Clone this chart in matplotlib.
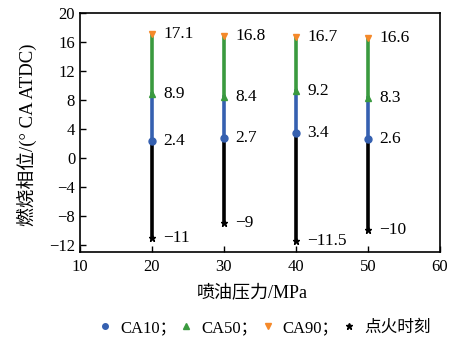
import matplotlib.pyplot as plt
from matplotlib.lines import Line2D

plt.rcParams['font.family'] = ['Liberation Serif', 'Noto Sans CJK SC']
plt.rcParams['axes.unicode_minus'] = True

# 喷油压力 / 燃烧相位
pressure = [20, 30, 40, 50]
ignition = [-11, -9, -11.5, -10]
ca10 = [2.4, 2.7, 3.4, 2.6]
ca50 = [8.9, 8.4, 9.2, 8.3]
ca90 = [17.1, 16.8, 16.7, 16.6]

c_blue = "#3560b0"
c_green = "#3a9a3f"
c_orange = "#f5892a"

fig = plt.figure(figsize=(4.52, 3.38), dpi=100)
ax = fig.add_axes([0.177, 0.254, 0.796, 0.707])

def fmt(v):
    s = ("%g" % v)
    return s.replace("-", "\u2212")

for i, x in enumerate(pressure):
    ax.plot([x, x], [ignition[i], ca10[i]], color="black", lw=2.6, zorder=2)
    ax.plot([x, x], [ca10[i], ca50[i]], color=c_blue, lw=2.6, zorder=2)
    ax.plot([x, x], [ca50[i], ca90[i]], color=c_green, lw=2.6, zorder=2)
    ax.plot(x, ignition[i], marker="*", color="black", ms=5, zorder=3)
    ax.plot(x, ca10[i], marker="o", color=c_blue, ms=5, zorder=3)
    ax.plot(x, ca50[i], marker="^", color=c_green, ms=5, zorder=3)
    ax.plot(x, ca90[i], marker="v", color=c_orange, ms=5, zorder=3)
    for v in [ignition[i], ca10[i], ca50[i], ca90[i]]:
        ax.text(x + 1.6, v, fmt(v), fontsize=12.5, va="center", ha="left")

ax.set_xlim(10, 60)
ax.set_ylim(-13, 20)
ax.set_xticks([10, 20, 30, 40, 50, 60])
ax.set_yticks(range(-12, 21, 4))
ax.tick_params(direction="in", labelsize=12, length=4, width=1)
ax.tick_params(axis="x", pad=5)
for s in ax.spines.values():
    s.set_linewidth(1.2)

ax.set_xlabel("喷油压力/MPa", fontsize=13)
ax.set_ylabel("燃烧相位/(° CA ATDC)", fontsize=13.5)
ax.xaxis.set_label_coords(0.48, -0.135)
ax.yaxis.set_label_coords(-0.12, 0.49)

handles = [
    Line2D([], [], ls="none", marker="o", color=c_blue, ms=4),
    Line2D([], [], ls="none", marker="^", color=c_green, ms=4),
    Line2D([], [], ls="none", marker="v", color=c_orange, ms=4),
    Line2D([], [], ls="none", marker="*", color="black", ms=5),
]
labels = ["CA10；", "CA50；", "CA90；", "点火时刻"]
fig.legend(handles, labels, loc="center", bbox_to_anchor=(0.585, 0.03), ncol=4,
           frameon=False, fontsize=12, handlelength=0.8, handletextpad=0.5,
           columnspacing=0.2)

fig.savefig("out.png", dpi=100)
